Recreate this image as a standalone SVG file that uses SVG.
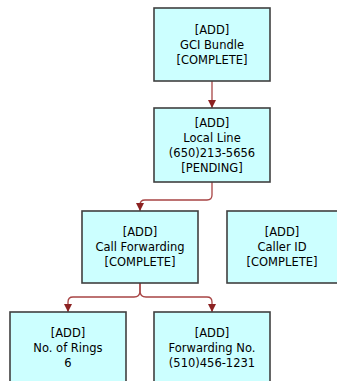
<svg xmlns="http://www.w3.org/2000/svg" width="337" height="381" viewBox="0 0 337 381">
<style>
.box{fill:#ccffff;stroke:#404040;stroke-width:1.6}
.t{font-family:"DejaVu Sans",Verdana,sans-serif;font-size:11.5px;fill:#000;text-anchor:middle}
.c{fill:none;stroke:#a84444;stroke-width:1.3;marker-end:url(#ah)}
</style>
<defs>
<marker id="ah" markerUnits="userSpaceOnUse" markerWidth="8" markerHeight="8" viewBox="0 0 8 8" refX="8" refY="4" orient="auto">
<path d="M0,0 L8,4 L0,8 Z" fill="#8c2222"/>
</marker>
</defs>
<rect width="337" height="381" fill="#fff"/>
<g id="connectors">
<path class="c" d="M212,81 V108"/>
<path class="c" d="M212,182 V195 Q212,200 207,200 H145 Q140,200 140,205 V211"/>
<path class="c" d="M140,283 V291 Q140,297 134,297 H73 Q68,297 68,302 V312"/>
<path class="c" d="M140,283 V291 Q140,297 146,297 H207 Q212,297 212,302 V312"/>
</g>
<g id="gci">
<rect class="box" x="154" y="8" width="116" height="73"/>
<text class="t" x="212" y="34">[ADD]</text>
<text class="t" x="212" y="49">GCI Bundle</text>
<text class="t" x="212" y="64">[COMPLETE]</text>
</g>
<g id="local">
<rect class="box" x="154" y="108" width="116" height="74"/>
<text class="t" x="212" y="127">[ADD]</text>
<text class="t" x="212" y="142">Local Line</text>
<text class="t" x="212" y="157">(650)213-5656</text>
<text class="t" x="212" y="172">[PENDING]</text>
</g>
<g id="callfwd">
<rect class="box" x="82" y="211" width="116" height="72"/>
<text class="t" x="140" y="236">[ADD]</text>
<text class="t" x="140" y="251">Call Forwarding</text>
<text class="t" x="140" y="266">[COMPLETE]</text>
</g>
<g id="callerid">
<rect class="box" x="227" y="211" width="116" height="72"/>
<text class="t" x="282" y="236">[ADD]</text>
<text class="t" x="282" y="251">Caller ID</text>
<text class="t" x="282" y="266">[COMPLETE]</text>
</g>
<g id="rings">
<rect class="box" x="10" y="312" width="116" height="72"/>
<text class="t" x="68" y="337">[ADD]</text>
<text class="t" x="68" y="352">No. of Rings</text>
<text class="t" x="68" y="367">6</text>
</g>
<g id="fwdno">
<rect class="box" x="154" y="312" width="116" height="72"/>
<text class="t" x="212" y="337">[ADD]</text>
<text class="t" x="212" y="352">Forwarding No.</text>
<text class="t" x="212" y="367">(510)456-1231</text>
</g>
</svg>
